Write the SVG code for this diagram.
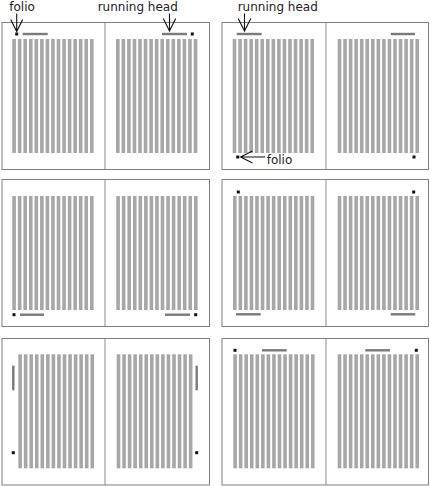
<svg xmlns="http://www.w3.org/2000/svg" xmlns:xlink="http://www.w3.org/1999/xlink" width="430" height="486" viewBox="0 0 430 486">
<style>
.frame{fill:none;stroke:#808080;stroke-width:1}
.gutter{stroke:#8a8a8a;stroke-width:1}
.bar{fill:#a7a7a7}
.rh{stroke:#7a7a7a;stroke-width:2.4}
.folio{fill:#111}
.arrow{fill:none;stroke:#111;stroke-width:1.1}
.lbl{font-family:"DejaVu Sans","Liberation Sans",sans-serif;font-size:12px;fill:#222}
</style>
<defs>
<g id="c14">
<rect class="bar" x="0" y="0" width="3.6" height="114"/>
<rect class="bar" x="5.55" y="0" width="3.6" height="114"/>
<rect class="bar" x="11.1" y="0" width="3.6" height="114"/>
<rect class="bar" x="16.65" y="0" width="3.6" height="114"/>
<rect class="bar" x="22.2" y="0" width="3.6" height="114"/>
<rect class="bar" x="27.75" y="0" width="3.6" height="114"/>
<rect class="bar" x="33.3" y="0" width="3.6" height="114"/>
<rect class="bar" x="38.85" y="0" width="3.6" height="114"/>
<rect class="bar" x="44.4" y="0" width="3.6" height="114"/>
<rect class="bar" x="49.95" y="0" width="3.6" height="114"/>
<rect class="bar" x="55.5" y="0" width="3.6" height="114"/>
<rect class="bar" x="61.05" y="0" width="3.6" height="114"/>
<rect class="bar" x="66.6" y="0" width="3.6" height="114"/>
<rect class="bar" x="72.15" y="0" width="3.6" height="114"/>
</g>
<g id="c15">
<use xlink:href="#c14"/>
<rect class="bar" x="77.7" y="0" width="3.6" height="114"/>
</g>
</defs>

<g id="spread1">
<rect class="frame" x="2" y="22.5" width="207.5" height="147"/>
<line class="gutter" x1="105" y1="22.5" x2="105" y2="169.5"/>
<use xlink:href="#c15" x="12.3" y="39"/>
<use xlink:href="#c15" x="116" y="39"/>
<line class="rh" x1="22.7" y1="34" x2="47.7" y2="34"/>
<line class="rh" x1="162" y1="34" x2="187" y2="34"/>
<rect class="folio" x="15.2" y="32.5" width="3" height="3"/>
<rect class="folio" x="190.8" y="32.5" width="3" height="3"/>
</g>

<g id="spread2">
<rect class="frame" x="222" y="22.5" width="206.5" height="147"/>
<line class="gutter" x1="326" y1="22.5" x2="326" y2="169.5"/>
<use xlink:href="#c15" x="232.7" y="39"/>
<use xlink:href="#c15" x="337.7" y="39"/>
<line class="rh" x1="236.7" y1="34" x2="261.7" y2="34"/>
<line class="rh" x1="390.7" y1="34" x2="415" y2="34"/>
<rect class="folio" x="236.2" y="155.5" width="3" height="3"/>
<rect class="folio" x="412.5" y="155.5" width="3" height="3"/>
</g>

<g id="spread3">
<rect class="frame" x="2" y="179.5" width="207.5" height="147"/>
<line class="gutter" x1="105" y1="179.5" x2="105" y2="326.5"/>
<use xlink:href="#c15" x="12.3" y="196"/>
<use xlink:href="#c15" x="116.3" y="196"/>
<line class="rh" x1="20" y1="314.7" x2="44" y2="314.7"/>
<line class="rh" x1="165" y1="314.7" x2="190" y2="314.7"/>
<rect class="folio" x="12.5" y="313.2" width="3" height="3"/>
<rect class="folio" x="194.2" y="313.2" width="3" height="3"/>
</g>

<g id="spread4">
<rect class="frame" x="222" y="179.5" width="206.5" height="147"/>
<line class="gutter" x1="326" y1="179.5" x2="326" y2="326.5"/>
<use xlink:href="#c15" x="233" y="196"/>
<use xlink:href="#c15" x="337.7" y="196"/>
<line class="rh" x1="236" y1="314.3" x2="260.7" y2="314.3"/>
<line class="rh" x1="390.7" y1="314.3" x2="415.3" y2="314.3"/>
<rect class="folio" x="236.8" y="190.5" width="3" height="3"/>
<rect class="folio" x="412.2" y="190.5" width="3" height="3"/>
</g>

<g id="spread5">
<rect class="frame" x="2" y="338.5" width="207.5" height="146.5"/>
<line class="gutter" x1="105" y1="338.5" x2="105" y2="485"/>
<use xlink:href="#c14" x="18.3" y="354.3"/>
<use xlink:href="#c14" x="116.7" y="354.3"/>
<line class="rh" x1="13.3" y1="365.7" x2="13.3" y2="390.3"/>
<line class="rh" x1="196.7" y1="365.7" x2="196.7" y2="390.3"/>
<rect class="folio" x="11.8" y="451.2" width="3" height="3"/>
<rect class="folio" x="195.2" y="451.2" width="3" height="3"/>
</g>

<g id="spread6">
<rect class="frame" x="222" y="338.5" width="206.5" height="146.5"/>
<line class="gutter" x1="326" y1="338.5" x2="326" y2="485"/>
<use xlink:href="#c15" x="233.3" y="354.3"/>
<use xlink:href="#c15" x="337.7" y="354.3"/>
<line class="rh" x1="262" y1="350.3" x2="286.7" y2="350.3"/>
<line class="rh" x1="365.3" y1="350.3" x2="390" y2="350.3"/>
<rect class="folio" x="233.5" y="348.8" width="3" height="3"/>
<rect class="folio" x="414.8" y="348.8" width="3" height="3"/>
</g>

<g id="labels">
<text class="lbl" x="9.3" y="10.8">folio</text>
<text class="lbl" x="97.7" y="10.8">running head</text>
<text class="lbl" x="237.7" y="10.8">running head</text>
<text class="lbl" x="266.7" y="163.5">folio</text>
</g>

<g id="connectors">
<path class="arrow" d="M16.7,13.5 V31.5 M10.7,19.5 L16.7,31.5 L22.7,19.5"/>
<path class="arrow" d="M169.5,13.5 V31 M163.3,18.5 L169.5,31 L175.7,18.5"/>
<path class="arrow" d="M244.5,13.5 V31 M238.2,18.5 L244.5,31 L250.8,18.5"/>
<path class="arrow" d="M265,157 H240.5 M252.5,151 L240.5,157 L252.5,163"/>
</g>
</svg>
